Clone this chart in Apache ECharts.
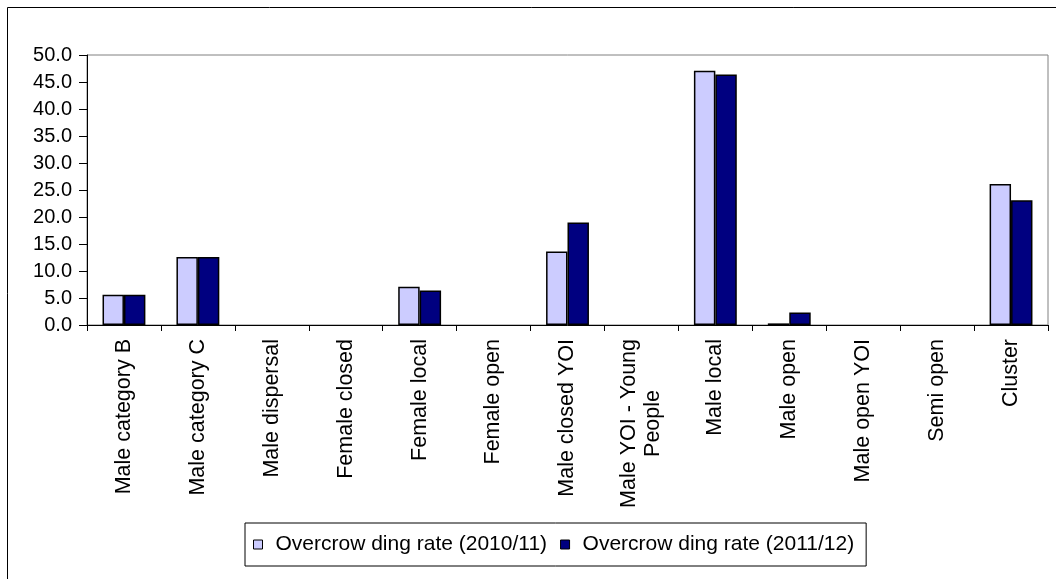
<!DOCTYPE html>
<html><head><meta charset="utf-8">
<script src="https://cdn.jsdelivr.net/npm/echarts@6/dist/echarts.min.js"></script>
<style>html,body{margin:0;padding:0;background:#fff}#c{width:1056px;height:579px}</style>
</head><body><div id="c"></div>
<script>
var categories = ["Male category B","Male category C","Male dispersal","Female closed","Female local","Female open","Male closed YOI","Male YOI - Young\nPeople","Male local","Male open","Male open YOI","Semi open","Cluster"];
var rate2010 = [5.6, 12.6, 0, 0, 7.1, 0, 13.6, 0, 47.1, 0.3, 0, 0, 26.1];
var rate2011 = [5.6, 12.6, 0, 0, 6.4, 0, 19.0, 0, 46.4, 2.3, 0, 0, 23.1];
var yTicks = [0,5,10,15,20,25,30,35,40,45,50];
var seriesNames = ["Overcrow ding rate (2010/11)", "Overcrow ding rate (2011/12)"];

function hideZero(arr){ return arr.map(function(v){ return v === 0 ? '-' : v; }); }

var font = "Liberation Sans, Arial, sans-serif";
var chart = echarts.init(document.getElementById('c'), null, {renderer:'canvas'});
chart.setOption({
  animation:false,
  backgroundColor:'#fff',
  graphic:[
    {type:'line', shape:{x1:7.5,y1:7.5,x2:1056,y2:7.5}, style:{stroke:'#000',lineWidth:1}},
    {type:'line', shape:{x1:7.5,y1:7.5,x2:7.5,y2:579}, style:{stroke:'#000',lineWidth:1}}
  ],
  grid:{left:87, top:55, right:8, bottom:254, show:true, borderColor:'#808080', borderWidth:1, containLabel:false},
  legend:{
    left:245, top:523, orient:'horizontal',
    data:seriesNames,
    icon:'rect', itemWidth:9, itemHeight:9, itemGap:13,
    itemStyle:{borderColor:'#000', borderWidth:1},
    borderColor:'#000', borderWidth:1, padding:[11,12,11,8],
    textStyle:{fontFamily:font, fontSize:21, color:'#000', padding:[0,0,0,8]}
  },
  xAxis:{
    type:'category', data:categories,
    axisLine:{lineStyle:{color:'#000', width:1}},
    axisTick:{show:true, length:6, lineStyle:{color:'#000'}, alignWithLabel:false},
    axisLabel:{rotate:90, interval:0, margin:14, color:'#000', fontFamily:font, fontSize:21.5,
      formatter:function(v){ return v.split('\n').map(function(s){return '{c|'+s+'}';}).join('\n'); },
      rich:{c:{fontFamily:font, fontSize:21.5, color:'#000', align:'center', lineHeight:24}}
    },
    splitLine:{show:false}
  },
  yAxis:{
    type:'value', min:0, max:50, interval:5,
    axisLine:{show:true, lineStyle:{color:'#000', width:1}},
    axisTick:{show:true, length:8, lineStyle:{color:'#000'}},
    axisLabel:{margin:15, color:'#000', fontFamily:font, fontSize:20,
      formatter:function(v){ return yTicks.indexOf(v)>=0 ? v.toFixed(1) : ''; }},
    splitLine:{show:false}
  },
  series:[
    {name:seriesNames[0], type:'bar', data:hideZero(rate2010), barGap:'0%', barCategoryGap:'42%',
     itemStyle:{color:'#CCCCFF', borderColor:'#000', borderWidth:1.5}},
    {name:seriesNames[1], type:'bar', data:hideZero(rate2011), barGap:'0%', barCategoryGap:'42%',
     itemStyle:{color:'#000080', borderColor:'#000', borderWidth:1.5}}
  ]
});
</script></body></html>
